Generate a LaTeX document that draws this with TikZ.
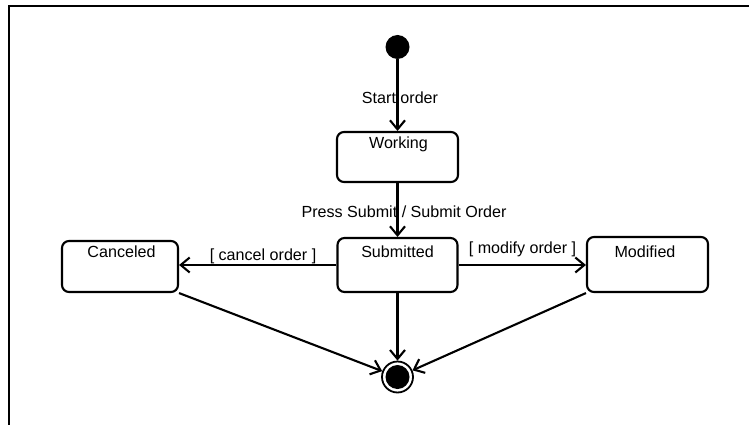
\documentclass[tikz,border=0pt]{standalone}
\usepackage{fontspec}
\setmainfont{Liberation Sans}
\usetikzlibrary{arrows.meta}
\begin{document}
\begin{tikzpicture}[x=1pt,y=-1pt,
  every node/.style={font=\fontsize{16.1}{18}\selectfont},
  state/.style={draw, line width=2.1pt, rounded corners=7pt, inner sep=0pt},
  txt/.style={inner sep=0pt, anchor=north},
  lbl/.style={inner sep=1pt, fill=none},
  trans/.style={line width=2.1pt, -{Straight Barb[length=9pt,width=15pt,line width=2.1pt]}},
  line cap=butt]
  \useasboundingbox (0,0) rectangle (749,425);
  % frame
  \draw[line width=2.2pt] (749,6) -- (9,6) -- (9,425);

  % initial state
  \node[circle, fill, minimum size=24pt, inner sep=0pt] (init) at (397.5,47) {};

  % states
  \node[state, minimum width=121pt, minimum height=50pt] (work) at (397.5,157) {};
  \node[txt] (worktxt) at (398.5,136.5) {Working};

  \node[state, minimum width=120pt, minimum height=54pt] (sub) at (397.5,265) {};
  \node[txt] (subtxt) at (397.5,246) {Submitted};

  \node[state, minimum width=116pt, minimum height=51pt] (canc) at (120,266.5) {};
  \node[txt] (canctxt) at (121.5,246) {Canceled};

  \node[state, minimum width=121pt, minimum height=55pt] (mod) at (647.5,264.5) {};
  \node[txt] (modtxt) at (645,246) {Modified};

  % final state
  \node[circle, draw, line width=1.8pt, minimum size=31pt, inner sep=0pt] (fin) at (397.5,377) {};
  \node[circle, fill, minimum size=24pt, inner sep=0pt] (fincore) at (fin) {};

  % transitions
  \draw[trans] (init) -- (work);
  \node[lbl] (l1) at (400,97.5) {Start order};

  \draw[trans] (work) -- (sub);
  \node[lbl] (l2) at (404,212) {Press Submit / Submit Order};

  \coordinate (ce) at (sub.west -| canc.east);
  \draw[trans] (sub.west) -- (ce);
  \node[lbl] (l3) at (263,256) {[ cancel order ]};

  \coordinate (me) at (sub.east -| mod.west);
  \draw[trans] (sub.east) -- (me);
  \node[lbl] (l4) at (522.5,249) {[ modify order ]};

  \draw[trans] (sub) -- (fin);
  \draw[trans] (canc.south east) -- (fin);
  \draw[trans] (mod.south west) -- (fin);
\end{tikzpicture}
\end{document}
